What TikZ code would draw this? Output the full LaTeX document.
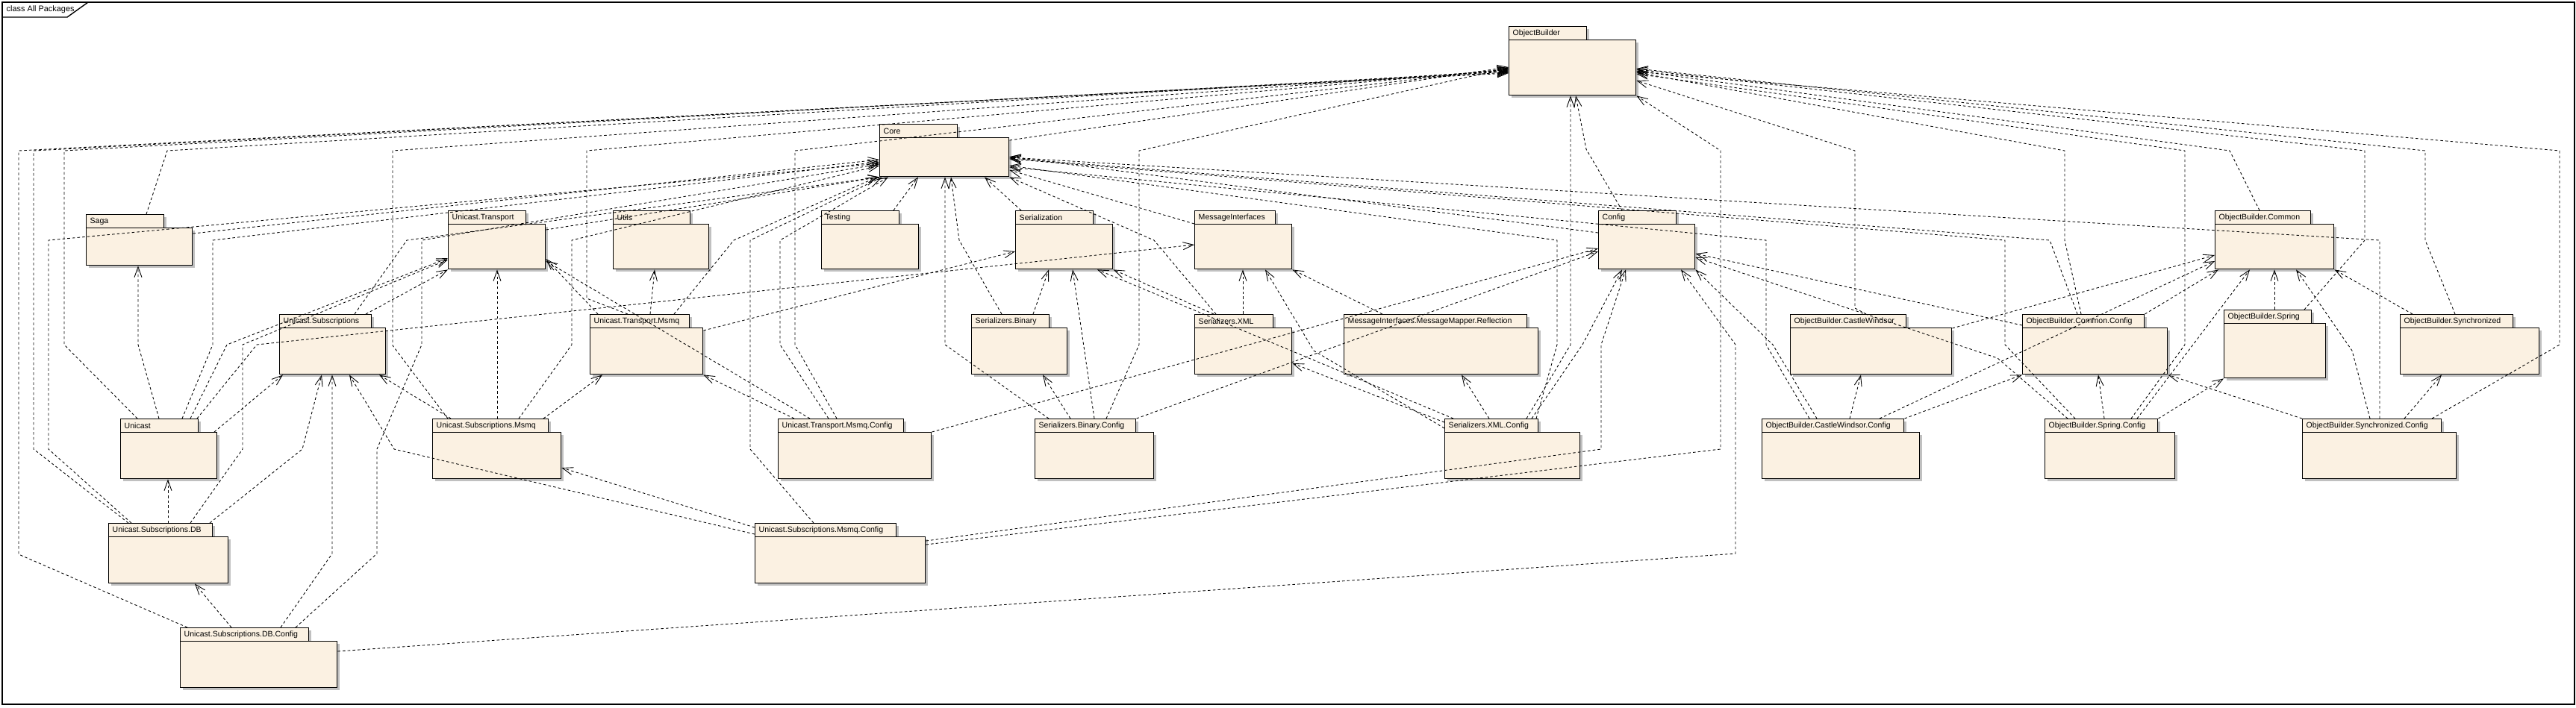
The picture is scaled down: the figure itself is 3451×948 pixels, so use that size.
\documentclass[tikz,border=0pt]{standalone}
\usepackage{fontspec}
\setmainfont{Liberation Sans}
\usetikzlibrary{arrows.meta}
\definecolor{pkgfill}{RGB}{251,241,226}
\definecolor{pkgshade}{RGB}{192,192,192}
% package: name, label, x, y, tab width, body width, body height
\newcommand{\pkg}[7]{%
  \fill[pkgshade] (#3+4,#4+4) rectangle (#3+#5+4,#4+22);
  \fill[pkgshade] (#3+4,#4+22) rectangle (#3+#6+4,#4+18+#7+4);
  \node[pkgtab, text width=#5*0.1mm-1mm] (#1tab) at (#3,#4) {#2};
  \node[pkgbody, minimum width=#6*0.1mm, minimum height=#7*0.1mm] (#1) at (#3,#4+18) {};
}

\begin{document}
\begin{tikzpicture}[x=0.1mm,y=-0.1mm,
  pkgtab/.style={draw=black, line width=0.4pt, fill=pkgfill, anchor=north west,
    minimum height=1.8mm, inner xsep=0.5mm, inner ysep=0pt, align=left,
    font=\fontsize{3}{3.6}\selectfont},
  pkgbody/.style={draw=black, line width=0.4pt, fill=pkgfill, anchor=north west, inner sep=0pt},
  dep/.style={line width=0.25pt, dash pattern=on 1pt off 0.9pt,
    -{Straight Barb[length=1.4mm,width=1mm]}}]
  \useasboundingbox (0,0) rectangle (3451,948);
  \draw[line width=0.4pt] (3,3) rectangle (3449,944);
  \draw[line width=0.4pt] (3,23) -- (90,23) -- (118,3);
  \node[anchor=west, inner sep=0pt, font=\fontsize{3.1}{3.7}\selectfont] (framelabel) at (8,13) {class All Packages};

  % packages
  \pkg{ob}{ObjectBuilder}{2021}{35}{104}{170}{74}
  \pkg{core}{Core}{1178}{166}{104}{173}{52}
  \pkg{sag}{Saga}{115}{287}{104}{142}{50}
  \pkg{ut}{Unicast.Transport}{600}{282}{104}{130}{60}
  \pkg{utl}{Utils}{821}{282}{103}{128}{60}
  \pkg{tst}{Testing}{1100}{282}{104}{130}{60}
  \pkg{ser}{Serialization}{1360}{282}{104}{130}{60}
  \pkg{mi}{MessageInterfaces}{1600}{282}{108}{130}{60}
  \pkg{cfg}{Config}{2141}{282}{104}{129}{60}
  \pkg{obc}{ObjectBuilder.Common}{2967}{282}{128}{159}{60}
  \pkg{us}{Unicast.Subscriptions}{374}{421}{123}{142}{62}
  \pkg{utm}{Unicast.Transport.Msmq}{790}{421}{133}{151}{62}
  \pkg{sb}{Serializers.Binary}{1301}{421}{104}{128}{62}
  \pkg{sx}{Serializers.XML}{1600}{421}{105}{130}{62}
  \pkg{mimr}{MessageInterfaces.MessageMapper.Reflection}{1800}{421}{245}{260}{62}
  \pkg{obcw}{ObjectBuilder.CastleWindsor}{2398}{421}{155}{216}{62}
  \pkg{obcc}{ObjectBuilder.Common.Config}{2709}{421}{163}{194}{62}
  \pkg{obs}{ObjectBuilder.Spring}{2979}{415}{117}{136}{73}
  \pkg{oby}{ObjectBuilder.Synchronized}{3215}{421}{151}{186}{62}
  \pkg{uni}{Unicast}{161}{561}{104}{129}{62}
  \pkg{usm}{Unicast.Subscriptions.Msmq}{579}{561}{155}{172}{62}
  \pkg{utmc}{Unicast.Transport.Msmq.Config}{1042}{561}{168}{205}{62}
  \pkg{sbc}{Serializers.Binary.Config}{1386}{561}{135}{159}{62}
  \pkg{sxc}{Serializers.XML.Config}{1935}{561}{125}{181}{62}
  \pkg{obcwc}{ObjectBuilder.CastleWindsor.Config}{2360}{561}{190}{211}{62}
  \pkg{obsc}{ObjectBuilder.Spring.Config}{2739}{561}{151}{174}{62}
  \pkg{obyc}{ObjectBuilder.Synchronized.Config}{3084}{561}{186}{206}{62}
  \pkg{usdb}{Unicast.Subscriptions.DB}{145}{701}{139}{160}{62}
  \pkg{usmc}{Unicast.Subscriptions.Msmq.Config}{1011}{701}{189}{228}{62}
  \pkg{usdbc}{Unicast.Subscriptions.DB.Config}{241}{841}{172}{210}{62}

  % to ObjectBuilder, left side
  \draw[dep] (usdbctab.north -| 251,0) -- (25,743) -- (25,202) -- (ob.west |- 0,98);
  \draw[dep] (usdbtab.north -| 172,0) -- (45,602) -- (45,202) -- (ob.west |- 0,97);
  \draw[dep] (unitab.north -| 184,0) -- (86,462) -- (86,202) -- (ob.west |- 0,96);
  \draw[dep] (sagtab.north -| 196,0) -- (224,202) -- (ob.west |- 0,95);
  \draw[dep] (usmtab.north -| 600,0) -- (526,463) -- (526,202) -- (ob.west |- 0,94);
  \draw[dep] (utmtab.north -| 841,0) -- (786,400) -- (786,202) -- (ob.west |- 0,93);
  \draw[dep] (utmctab.north -| 1121,0) -- (1065,462) -- (1065,202) -- (ob.west |- 0,92);
  \draw[dep] (sbctab.north -| 1482,0) -- (1526,462) -- (1526,202) -- (ob.west |- 0,91);
  \draw[dep] (core.east |- 0,188) -- (ob.west |- 0,90);

  % to Core
  \draw[dep] (sag.east |- 0,313) -- (core.west |- 0,214);
  \draw[dep] (usdbtab.north -| 176,0) -- (65,602) -- (65,322) -- (core.west |- 0,219);
  \draw[dep] (unitab.north -| 244,0) -- (285,462) -- (285,322) -- (core.west |- 0,217);
  \draw[dep] (usdbctab.north -| 396,0) -- (505,742) -- (505,602) -- (565,462) -- (565,322) -- (core.west |- 0,220);
  \draw[dep] (usmtab.north -| 695,0) -- (766,462) -- (766,322) -- (core.west |- 0,222);
  \draw[dep] (ustab.north -| 475,0) -- (545,322) -- (core.south west);
  \draw[dep] (ut.east |- 0,308) -- (core.south west);
  \draw[dep] (utmtab.north -| 903,0) -- (983,322) -- (core.south -| 1175,0);
  \draw[dep] (usmctab.north -| 1090,0) -- (1005,602) -- (1005,322) -- (core.south -| 1182,0);
  \draw[dep] (utmctab.north -| 1110,0) -- (1045,462) -- (1045,322) -- (core.south -| 1190,0);
  \draw[dep] (tsttab.north -| 1197,0) -- (core.south -| 1230,0);
  \draw[dep] (sbctab.north -| 1405,0) -- (1266,462) -- (core.south -| 1266,0);
  \draw[dep] (sbtab.north -| 1342,0) -- (1285,322) -- (core.south -| 1274,0);
  \draw[dep] (sertab.north -| 1368,0) -- (core.south -| 1319,0);
  \draw[dep] (sxtab.north -| 1629,0) -- (1546,322) -- (core.south east);
  \draw[dep] (mi.north west) -- (core.east |- 0,228);
  \draw[dep] (cfg.west |- 0,312) -- (core.east |- 0,210);
  \draw[dep] (sxctab.north -| 2058,0) -- (2086,462) -- (2086,322) -- (core.east |- 0,222);
  \draw[dep] (obcwctab.north -| 2424,0) -- (2366,462) -- (2366,322) -- (core.east |- 0,224);
  \draw[dep] (obcctab.north -| 2783,0) -- (2746,322) -- (core.east |- 0,212);
  \draw[dep] (obsctab.north -| 2780,0) -- (2686,462) -- (2686,322) -- (core.east |- 0,213);
  \draw[dep] (obyctab.north -| 3188,0) -- (3188,322) -- (core.east |- 0,211);

  % to Serialization, MessageInterfaces, serializers
  \draw[dep] (utm.east |- 0,443) -- (ser.west |- 0,337);
  \draw[dep] (sbtab.north -| 1384,0) -- (ser.south -| 1405,0);
  \draw[dep] (sbctab.north -| 1466,0) -- (ser.south -| 1437,0);
  \draw[dep] (sxtab.north -| 1626,0) -- (ser.south east);
  \draw[dep] (sxctab.north -| 1947,0) -- (ser.south -| 1470,0);
  \draw[dep] (unitab.north -| 264,0) -- (344,462) -- (mi.west |- 0,328);
  \draw[dep] (sxtab.north -| 1665,0) -- (mi.south -| 1665,0);
  \draw[dep] (sxctab.west |- 0,574) -- (1760,470) -- (mi.south -| 1695,0);
  \draw[dep] (mimrtab.north -| 1852,0) -- (mi.south east);
  \draw[dep] (sxctab.west |- 0,566) -- (sx.east |- 0,487);
  \draw[dep] (sxctab.north -| 1995,0) -- (mimr.south -| 1958,0);
  \draw[dep] (sbctab.north -| 1434,0) -- (sb.south -| 1397,0);

  % Unicast packages
  \draw[dep] (unitab.north -| 213,0) -- (185,462) -- (sag.south -| 185,0);
  \draw[dep] (uni.north -| 287,0) -- (us.south -| 379,0);
  \draw[dep] (unitab.north -| 255,0) -- (304,462) -- (ut.west |- 0,346);
  \draw[dep] (usdbtab.north -| 255,0) -- (325,602) -- (325,462) -- (ut.west |- 0,348);
  \draw[dep] (usdbtab.north -| 225,0) -- (uni.south -| 225,0);
  \draw[dep] (usdbtab.north -| 281,0) -- (405,602) -- (us.south -| 431,0);
  \draw[dep] (usdbctab.north -| 310,0) -- (usdb.south -| 261,0);
  \draw[dep] (usdbctab.north -| 376,0) -- (445,742) -- (us.south -| 445,0);
  \draw[dep] (usdbc.east |- 0,873) -- (2325,742) -- (2325,462) -- (cfg.south -| 2252,0);
  \draw[dep] (ustab.north -| 490,0) -- (ut.south west);
  \draw[dep] (usmtab.north -| 604,0) -- (us.south -| 508,0);
  \draw[dep] (usmtab.north -| 666,0) -- (ut.south -| 666,0);
  \draw[dep] (usmtab.north -| 728,0) -- (utm.south -| 807,0);
  \draw[dep] (usmctab.west |- 0,707) -- (usm.east |- 0,627);
  \draw[dep] (usmctab.west |- 0,716) -- (528,602) -- (us.south -| 468,0);
  \draw[dep] (usmc.east |- 0,725) -- (2145,602) -- (2145,462) -- (cfg.south -| 2178,0);
  \draw[dep] (usmc.east |- 0,730) -- (2305,602) -- (2305,202) -- (ob.south east);
  \draw[dep] (utmtab.north -| 801,0) -- (ut.east |- 0,347);
  \draw[dep] (utmtab.north -| 871,0) -- (utl.south -| 877,0);
  \draw[dep] (utmctab.north -| 1064,0) -- (utm.south east);
  \draw[dep] (utmctab.north -| 1085,0) -- (ut.east |- 0,350);
  \draw[dep] (utmc.north east) -- (cfg.west |- 0,333);
  \draw[dep] (sbctab.north east) -- (cfg.west |- 0,337);

  % Config
  \draw[dep] (cfgtab.north -| 2173,0) -- (2125,200) -- (ob.south -| 2111,0);
  \draw[dep] (sxctab.north -| 2045,0) -- (2104,462) -- (ob.south -| 2104,0);
  \draw[dep] (sxctab.north -| 2052,0) -- (2120,462) -- (cfg.south -| 2173,0);
  \draw[dep] (obcwctab.north -| 2434,0) -- (2375,462) -- (cfg.south east);
  \draw[dep] (obcctab.west |- 0,436) -- (cfg.east |- 0,340);
  \draw[dep] (obsctab.north -| 2770,0) -- (2676,480) -- (cfg.east |- 0,345);

  % to ObjectBuilder, right side
  \draw[dep] (obcwtab.north -| 2500,0) -- (2485,413) -- (2485,202) -- (ob.east |- 0,108);
  \draw[dep] (obcctab.north -| 2788,0) -- (2766,322) -- (2766,202) -- (ob.east |- 0,97);
  \draw[dep] (obsctab.north -| 2855,0) -- (2927,462) -- (2927,202) -- (ob.east |- 0,99);
  \draw[dep] (obctab.north -| 3027,0) -- (2987,202) -- (ob.east |- 0,95);
  \draw[dep] (obstab.north -| 3087,0) -- (3168,322) -- (3168,202) -- (ob.east |- 0,93);
  \draw[dep] (obytab.north -| 3289,0) -- (3249,322) -- (3249,202) -- (ob.east |- 0,92);
  \draw[dep] (obyctab.north -| 3258,0) -- (3429,462) -- (3429,202) -- (ob.east |- 0,96);

  % ObjectBuilder containers
  \draw[dep] (obcw.east |- 0,440) -- (obc.west |- 0,342);
  \draw[dep] (obcwctab.north -| 2518,0) -- (obc.west |- 0,350);
  \draw[dep] (obcctab.north east) -- (obc.south -| 2972,0);
  \draw[dep] (obstab.north -| 3047,0) -- (obc.south -| 3047,0);
  \draw[dep] (obsctab.north -| 2863,0) -- (obc.south -| 3014,0);
  \draw[dep] (obyctab.north -| 3175,0) -- (3151,470) -- (obc.south -| 3076,0);
  \draw[dep] (obytab.north -| 3232,0) -- (obc.south east);
  \draw[dep] (obcwctab.north -| 2478,0) -- (obcw.south -| 2493,0);
  \draw[dep] (obcwctab.north east) -- (obcc.south west);
  \draw[dep] (obsctab.north -| 2819,0) -- (obcc.south -| 2811,0);
  \draw[dep] (obsctab.north east) -- (obs.south west);
  \draw[dep] (obyctab.north west) -- (obcc.south east);
  \draw[dep] (obyctab.north -| 3221,0) -- (oby.south -| 3271,0);
\end{tikzpicture}
\end{document}
